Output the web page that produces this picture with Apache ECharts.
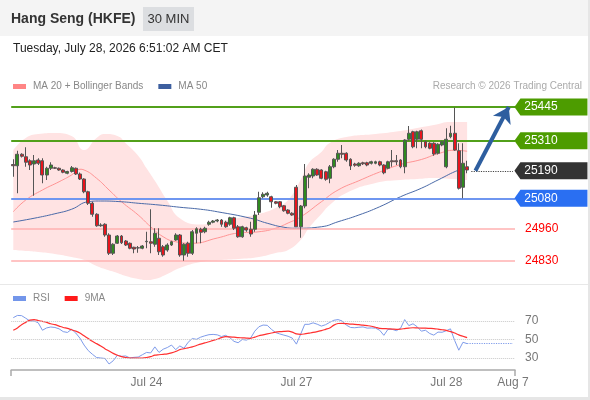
<!DOCTYPE html>
<html><head><meta charset="utf-8">
<script src="https://cdn.jsdelivr.net/npm/echarts@6.0.0/dist/echarts.min.js"></script>
<style>html,body{margin:0;padding:0;background:#fff}#c{width:590px;height:400px}</style>
</head><body><div id="c"></div>
<script>
// ---- data ----
const candles = [ // [open, close, low, high]
[25215,25210,25166,25236],[25210,25256,25100,25270],[25256,25248,25243,25260],[25246,25224,25206,25284],
[25230,25213,25193,25236],[25217,25230,25090,25253],[25233,25220,25213,25240],[25230,25173,25140,25240],
[25173,25200,25153,25206],[25200,25213,25193,25224],[25202,25200,25197,25206],[25200,25193,25190,25203],
[25193,25184,25180,25196],[25180,25187,25176,25190],[25187,25202,25183,25209],[25200,25177,25173,25203],
[25177,25157,25153,25183],[25157,25106,25100,25160],[25106,25060,25053,25110],[25060,25016,25006,25066],
[25016,24970,24966,25020],[24970,24973,24966,24980],[24976,24933,24926,24980],[24933,24860,24853,24940],
[24860,24896,24853,24900],[24900,24929,24897,24933],[24929,24902,24897,24933],[24909,24893,24889,24913],
[24900,24880,24876,24903],[24884,24877,24860,24886],[24882,24881,24862,24889],[24880,24889,24876,24893],
[24906,24908,24880,24946],[24906,24900,24860,25036],[24896,24940,24886,24960],[24920,24866,24853,24960],
[24886,24853,24846,24893],[24873,24893,24866,24900],[24893,24906,24889,24910],[24913,24933,24910,24940],
[24933,24853,24846,24937],[24853,24896,24830,24900],[24900,24860,24846,24906],[24860,24946,24853,24953],
[24940,24958,24900,24964],[24956,24944,24900,24962],[24946,24960,24940,24966],[24976,24984,24970,24990],
[24984,24989,24980,24993],[24989,24993,24984,24997],[24993,24976,24966,24997],[24984,24966,24962,24990],
[24976,25002,24970,25006],[25002,24960,24953,25006],[24966,24926,24922,24973],[24926,24966,24922,24970],
[24962,24953,24946,24966],[24956,24937,24926,24986],[24956,25013,24946,25029],[25024,25082,25013,25106],
[25086,25096,25080,25104],[25093,25100,25086,25106],[25086,25066,25042,25090],[25066,25060,25056,25069],
[25066,25046,25040,25069],[25050,25030,25026,25053],[25033,25020,25016,25036],[25020,25013,25010,25024],
[25124,24966,24966,25133],[24966,25049,24922,25053],[25049,25169,25040,25217],[25164,25173,25120,25180],
[25169,25196,25160,25200],[25196,25173,25170,25200],[25193,25160,25156,25196],[25186,25156,25150,25190],
[25160,25206,25140,25213],[25206,25236,25200,25240],[25236,25260,25226,25273],[25260,25256,25240,25293],
[25260,25233,25226,25264],[25236,25209,25193,25240],[25217,25212,25206,25222],[25210,25220,25206,25224],
[25222,25218,25213,25226],[25222,25213,25208,25226],[25220,25226,25215,25230],[25220,25226,25216,25230],
[25226,25213,25208,25230],[25213,25182,25176,25216],[25200,25226,25196,25230],[25230,25226,25206,25273],
[25230,25226,25213,25253],[25233,25206,25200,25236],[25206,25313,25180,25316],[25316,25340,25310,25369],
[25346,25286,25280,25350],[25316,25346,25280,25350],[25350,25316,25280,25355],[25306,25286,25280,25310],
[25300,25280,25276,25304],[25300,25257,25250,25304],[25260,25296,25255,25300],[25293,25306,25288,25310],
[25206,25316,25200,25360],[25326,25340,25320,25370],[25340,25273,25270,25443],[25270,25120,25115,25300],
[25124,25220,25080,25300],[25206,25193,25180,25230]
];
const totalSlots = 121;                       // candle slots incl. projection space
const tickIndex  = [32, 68, 104, 120];
const tickLabels = ['Jul 24', 'Jul 27', 'Jul 28', 'Aug 7'];

const ma20 = [[0,25026],[3,25073],[7,25113],[11,25146],[14,25173],[16,25196],[17,25193],[20,25160],[23,25113],[26,25066],[30,25013],[33,24966],[36,24926],[39,24906],[43,24900],[49,24921],[54,24941],[59,24946],[63,24960],[66,24981],[69,25005],[74,25066],[78,25113],[83,25150],[88,25185],[93,25215],[98,25235],[102,25258],[106,25272],[109,25268]];
const ma50 = [[0,24985],[5,25000],[10,25018],[14,25036],[18,25066],[21,25069],[26,25066],[30,25060],[35,25053],[40,25044],[45,25036],[49,25026],[57,25000],[61,24980],[65,24964],[68,24960],[74,24966],[78,24986],[83,25013],[88,25046],[93,25086],[98,25120],[102,25153],[107,25193],[109,25200]];
const bandIdx   = [0,3,6,10,14,17,20,22,25,27,30,32,34,37,40,45,50,54,59,63,66,69,71,74,76,80,87,93,97,101,105,109];
const bandUpper = [25273,25321,25337,25341,25329,25273,25321,25337,25329,25300,25250,25200,25150,25070,25000,24975,24989,25001,25017,25041,25073,25153,25221,25265,25301,25325,25337,25349,25361,25373,25385,25385];
const bandLower = [24873,24869,24865,24857,24845,24833,24809,24797,24781,24769,24757,24753,24757,24777,24801,24825,24833,24837,24845,24861,24873,24913,24961,25017,25053,25101,25141,25153,25157,25161,25157,25153];

const levels = [25445, 25310, 25190, 25080, 24960, 24830];

const rsi = [73.6,76,75.8,73,70,70,68,60,62.5,63.5,63,61.5,58.5,57.6,61,57,51.5,44,38,34,
30.5,30,29.5,23.5,27,33,31.8,32.2,30,30.7,31,33.5,36,35.5,42,36,39.5,41.3,44,39,
43,40.5,47,51,50.2,52.5,54,55.2,55.5,55,53.2,54.5,52,48,46.5,50,49.3,51.5,59,63.8,
65.6,65.3,61,57.5,56,54.7,53.5,51.5,45,55.5,66.4,66.4,68,66.5,64.5,66,68.5,70.8,71.5,70,
65.5,63,62.7,63.2,63.6,62.3,62.5,62.3,60,54.5,61,61,59.5,62,71.5,65,67,63.8,59,60,
56.5,54.7,58,57.8,59.5,61.5,49,38.4,47,45.5];
const rsiMA = [60,62.5,66,68.5,71,71.5,70.5,69.5,68.5,67,66,64.5,63,62,60.5,59,57,54,51,48,
45.5,43,40,37.5,35,33,31.5,30.5,30,30,30,30,30.5,31.5,33,33.5,34,34.5,35.5,37,
39,40,41,42,43.5,45,46.3,47.5,49,50.3,52,53,52.8,52.5,52,51.8,51.5,51.3,52.5,54,
55,56,57,58,58.5,58.8,59,58,56,55.5,56,56.8,57.6,58.5,59.5,61,62.5,65.5,67.3,67.5,
67.2,66.7,66.4,66,65.6,65,64.3,63.2,62,61.8,61.5,61.3,61,61.3,61.8,62.3,62.7,62.5,62.3,62.2,
62,61.8,61.2,60.5,59.8,58.5,57,55,53.5,52];
const rsiLevels = [70, 50, 30];

// ---- build ----
const FONT = '"Liberation Sans", Arial, sans-serif';
const cats = Array.from({length: totalSlots}, (_, i) => String(i));
const last = totalSlots - 1;
const n = candles.length;
const lowerPairs = bandIdx.map((x, k) => [x, bandLower[k]]);
const widthPairs = bandIdx.map((x, k) => [x, bandUpper[k] - bandLower[k]]);
const tagColors = ['#4d9c00', '#4d9c00', '#333333', '#2a6ff2'];
const tagPath = 'path://M0,8.5L6,0L73,0L73,17L6,17Z';

const chart = echarts.init(document.getElementById('c'));
chart.setOption({
  animation: false,
  backgroundColor: '#fff',
  textStyle: {fontFamily: FONT},
  graphic: [
    {type:'rect', shape:{x:0,y:0,width:590,height:36}, style:{fill:'#f4f4f4'}, silent:true, z:-10},
    {type:'rect', shape:{x:143,y:7,width:51,height:24}, style:{fill:'#dcdee1'}, silent:true},
    {type:'text', x:11, y:19, style:{text:'Hang Seng (HKFE)', font:'bold 14px ' + FONT, fill:'#333', verticalAlign:'middle'}},
    {type:'text', x:168.5, y:19, style:{text:'30 MIN', font:'13px ' + FONT, fill:'#333', align:'center', verticalAlign:'middle'}},
    {type:'text', x:13, y:48.5, style:{text:'Tuesday, July 28, 2026 6:51:02 AM CET', font:'12px ' + FONT, fill:'#222', verticalAlign:'middle'}},
    {type:'text', x:582, y:86, style:{text:'Research \u00a9 2026 Trading Central', font:'10px ' + FONT, fill:'#aaa', align:'right', verticalAlign:'middle'}},
    {type:'rect', shape:{x:0,y:284,width:590,height:1}, style:{fill:'#e8e8e8'}, silent:true},
    {type:'rect', shape:{x:588,y:0,width:2,height:400}, style:{fill:'#e6e6e6'}, silent:true},
    {type:'rect', shape:{x:0,y:397,width:590,height:3}, style:{fill:'#e6e6e6'}, silent:true}
  ],
  legend: [
    {data:['MA 20 + Bollinger Bands','MA 50'], left:13, top:81.5, icon:'rect', itemWidth:13, itemHeight:5, itemGap:15, padding:0, selectedMode:false, textStyle:{color:'#888', fontSize:10, padding:[0,0,0,2]}},
    {data:['RSI','9MA'], left:13, top:293.5, icon:'rect', itemWidth:13, itemHeight:5, itemGap:15, padding:0, selectedMode:false, textStyle:{color:'#888', fontSize:10, padding:[0,0,0,2]}}
  ],
  grid: [
    {left:11.2, right:75, top:90, height:192},
    {left:11.2, right:75, top:302.5, height:67.5}
  ],
  xAxis: [
    {type:'category', gridIndex:0, data:cats, boundaryGap:true, show:false},
    {type:'category', gridIndex:1, data:cats, boundaryGap:true,
      axisLine:{lineStyle:{color:'#aaa', width:1.5}},
      axisTick:{show:true, length:6, interval:(i) => i === 0, lineStyle:{color:'#aaa', width:1.5}},
      axisLabel:{interval:(i) => tickIndex.includes(i), formatter:(v, i) => tickLabels[tickIndex.indexOf(Number(v))] || '', color:'#777', fontSize:12, margin:7},
      splitLine:{show:false}}
  ],
  yAxis: [
    {type:'value', gridIndex:0, min:24745, max:25513, show:false, splitLine:{show:false}},
    {type:'value', gridIndex:1, min:17, max:90, show:false, splitLine:{show:false}}
  ],
  series: [
    {type:'line', name:'bandLower', data:lowerPairs, stack:'bb', symbol:'none', smooth:true, lineStyle:{opacity:0}, silent:true, z:1},
    {type:'line', name:'bandWidth', data:widthPairs, stack:'bb', symbol:'none', smooth:true, lineStyle:{opacity:0}, areaStyle:{color:'#ffe3e3', opacity:1}, silent:true, z:1},
    {type:'line', name:'MA 20 + Bollinger Bands', data:ma20, color:'#ff8585', symbol:'none', smooth:true, lineStyle:{width:1, color:'#ff9494'}, silent:true, z:3},
    {type:'line', name:'MA 50', data:ma50, color:'#3d5f9f', symbol:'none', smooth:true, lineStyle:{width:1, color:'#4a6aa8'}, silent:true, z:3,
      markLine:{silent:true, symbol:['none','none'], label:{show:false},
        data:[
          {yAxis:levels[0], lineStyle:{color:'#52a01a', width:2, type:'solid'}},
          {yAxis:levels[1], lineStyle:{color:'#52a01a', width:2, type:'solid'}},
          {yAxis:levels[3], lineStyle:{color:'#6f96f0', width:2, type:'solid'}},
          {yAxis:levels[4], lineStyle:{color:'#ffb0b0', width:1.5, type:'solid'}, label:{show:true, position:'end', distance:10, formatter:String(levels[4]), color:'#f00', fontSize:12}},
          {yAxis:levels[5], lineStyle:{color:'#ffb0b0', width:1.5, type:'solid'}, label:{show:true, position:'end', distance:10, formatter:String(levels[5]), color:'#f00', fontSize:12}}
        ]}
    },
    {type:'candlestick', name:'HSI', data:candles, barWidth:3.4, z:5,
      itemStyle:{color:'#2f8a1f', color0:'#e8141c', borderColor:'#555', borderColor0:'#555', borderWidth:1},
      markLine:{silent:true, symbol:['none','none'], label:{show:false},
        data:[
          [{coord:[n, levels[2]], lineStyle:{color:'#444', width:1.2, type:'dotted'}}, {coord:[last, levels[2]]}],
          [{coord:[n + 1, levels[2]], lineStyle:{color:'#2e5e9f', width:4, type:'solid'}}, {coord:[last - 1, levels[0]], symbol:'arrow', symbolSize:[15,15]}]
        ]},
      markPoint:{silent:true, symbol:tagPath, symbolSize:[73,17], symbolOffset:[38,0], symbolKeepAspect:false,
        label:{show:true, color:'#fff', fontSize:12, offset:[-10,0], formatter:(p) => String(p.value)},
        data: levels.slice(0,4).map((v, k) => ({coord:[last, v], value:v, itemStyle:{color:tagColors[k]}}))}
    },
    {type:'line', name:'RSI', xAxisIndex:1, yAxisIndex:1, data:rsi, color:'#7396ea', symbol:'none', lineStyle:{width:1, color:'#7e9bea'}, silent:true, z:3,
      markLine:{silent:true, symbol:['none','none'],
        label:{show:true, position:'end', distance:10, color:'#777', fontSize:12},
        data: rsiLevels.map(v => ({yAxis:v, lineStyle:{color:'#c8c8c8', width:1, type:'dotted'}})).concat([
          [{coord:[n - 1, rsi[n - 1]], lineStyle:{color:'#7e9bea', width:1.2, type:'dotted'}, label:{show:false}}, {coord:[last, rsi[n - 1]]}]
        ])}
    },
    {type:'line', name:'9MA', xAxisIndex:1, yAxisIndex:1, data:rsiMA, color:'#ff1a1a', symbol:'none', smooth:0.3, lineStyle:{width:1.2, color:'#ff3030'}, silent:true, z:4}
  ]
});
</script></body></html>
